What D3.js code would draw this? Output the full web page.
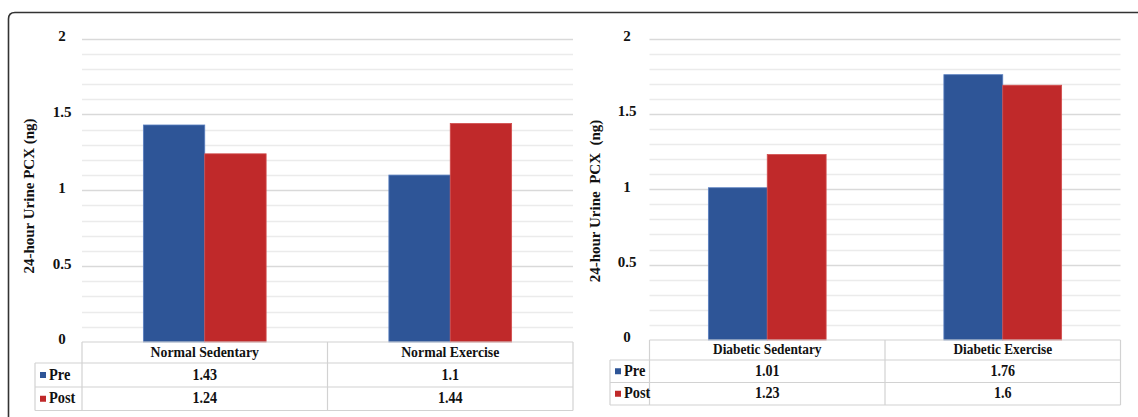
<!DOCTYPE html>
<html>
<head>
<meta charset="utf-8">
<script src="https://cdn.jsdelivr.net/npm/d3@7"></script>
<style>
  html, body { margin: 0; padding: 0; background: #fff; }
  svg { display: block; }
  text { font-family: "Liberation Serif", "Times New Roman", serif; font-weight: bold; fill: #111; }
</style>
</head>
<body>
<svg id="chart" width="1138" height="417"></svg>
<script>
// ---- data ----
const seriesNames = ["Pre", "Post"];
const seriesColors = ["#2e5597", "#c0292a"];
const yTicks = [0, 0.5, 1, 1.5, 2];
const yTickLabels = ["0", "0.5", "1", "1.5", "2"];
const yTitleLeft = "24-hour Urine PCX (ng)";
const yTitleRight = "24-hour Urine  PCX  (ng)";

const normalCategories = ["Normal Sedentary", "Normal Exercise"];
const normalPre = [1.43, 1.1];
const normalPost = [1.24, 1.44];
const normalPreTable = ["1.43", "1.1"];
const normalPostTable = ["1.24", "1.44"];

const diabeticCategories = ["Diabetic Sedentary", "Diabetic Exercise"];
const diabeticPre = [1.01, 1.76];
const diabeticPost = [1.23, 1.69];   // bar heights as drawn
const diabeticPreTable = ["1.01", "1.76"];
const diabeticPostTable = ["1.23", "1.6"]; // values as printed in the table

const svg = d3.select("#chart");

// frame (rounded border, open to right/bottom)
svg.append("path")
  .attr("d", "M8.5,420 L8.5,19 Q8.5,12.5 15,12.5 L1140,12.5")
  .attr("fill", "none").attr("stroke", "#333").attr("stroke-width", 1.6);

function condensedText(sel, x, y, size, sx, anchor) {
  return sel.append("text")
    .attr("transform", `translate(${x},${y}) scale(${sx},1)`)
    .attr("text-anchor", anchor || "middle").attr("dominant-baseline", "middle")
    .style("font-size", size);
}

function drawPanel(opt) {
  const g = svg.append("g");
  const y = d3.scaleLinear().domain([0, 2]).range([opt.y0, opt.y2]);
  const x0 = d3.scaleBand().domain(opt.categories).range([opt.plotLeft, opt.plotLeft + 2 * opt.band]).paddingInner(0).paddingOuter(0);
  const x1 = d3.scaleBand().domain(seriesNames).range([0, x0.bandwidth()]).paddingInner(0).paddingOuter(1);

  // gridlines (minor every 0.1, major on ticks)
  const minor = d3.range(1, 21).map(i => i / 10).filter(v => !yTicks.includes(v));
  g.selectAll(".minor").data(minor).join("line")
    .attr("x1", opt.plotLeft).attr("x2", opt.plotRight)
    .attr("y1", d => Math.round(y(d)) + 0.5).attr("y2", d => Math.round(y(d)) + 0.5)
    .attr("stroke", "#ebebeb").attr("stroke-width", 1.3);
  g.selectAll(".major").data(yTicks.filter(v => v > 0)).join("line")
    .attr("x1", opt.plotLeft).attr("x2", opt.plotRight)
    .attr("y1", d => Math.round(y(d)) + 0.5).attr("y2", d => Math.round(y(d)) + 0.5)
    .attr("stroke", "#d9d9d9").attr("stroke-width", 1.3);

  // y tick labels
  g.selectAll(".ytl").data(yTicks).join("text")
    .attr("x", opt.tickX).attr("y", d => y(d) - 1)
    .attr("text-anchor", "middle").attr("dominant-baseline", "middle")
    .style("font-size", "15px")
    .text((d, i) => yTickLabels[i]);

  // y title
  g.append("text")
    .attr("transform", `translate(${opt.titleX},${opt.titleY}) rotate(-90)`)
    .attr("text-anchor", "middle").attr("dominant-baseline", "middle")
    .attr("xml:space", "preserve").style("white-space", "pre")
    .style("font-size", "15px")
    .text(opt.title);

  // bars
  const rows = opt.categories.map((c, i) => ({ cat: c, vals: [opt.pre[i], opt.post[i]] }));
  const grp = g.selectAll(".cat").data(rows).join("g")
    .attr("transform", d => `translate(${x0(d.cat)},0)`);
  grp.selectAll("rect").data(d => d.vals.map((v, k) => ({ s: seriesNames[k], v, k }))).join("rect")
    .attr("x", d => x1(d.s)).attr("width", x1.bandwidth())
    .attr("y", d => y(d.v)).attr("height", d => y(0) - y(d.v))
    .attr("fill", d => seriesColors[d.k])
    .attr("stroke", d => d.k === 0 ? "#5a7fc0" : "#d24c4c").attr("stroke-width", 0.8);

  // data table
  const t = g.append("g");
  const rowTop = opt.tableRows; // [headerTop, preTop, postTop, bottom]
  const border = "#d2d2d2";
  t.append("line").attr("x1", opt.plotLeft).attr("x2", opt.plotRight)
    .attr("y1", rowTop[0]).attr("y2", rowTop[0]).attr("stroke", border).attr("stroke-width", 1.2);
  [1, 2, 3].forEach(r => {
    t.append("line").attr("x1", opt.legendLeft).attr("x2", opt.plotRight)
      .attr("y1", rowTop[r]).attr("y2", rowTop[r]).attr("stroke", border).attr("stroke-width", 1.2);
  });
  t.append("line").attr("x1", opt.legendLeft).attr("x2", opt.legendLeft)
    .attr("y1", rowTop[1]).attr("y2", rowTop[3]).attr("stroke", border).attr("stroke-width", 1.2);
  [opt.plotLeft, opt.plotLeft + opt.band, opt.plotRight].forEach(xv => {
    t.append("line").attr("x1", xv).attr("x2", xv)
      .attr("y1", rowTop[0]).attr("y2", rowTop[3]).attr("stroke", border).attr("stroke-width", 1.2);
  });
  // header labels
  opt.categories.forEach(c => {
    condensedText(t, x0(c) + x0.bandwidth() / 2, (rowTop[0] + rowTop[1]) / 2 + 1, opt.headerSize, 0.92).text(c);
  });
  // legend + values
  const tableVals = [opt.preTable, opt.postTable];
  seriesNames.forEach((s, k) => {
    const cy = (rowTop[k + 1] + rowTop[k + 2]) / 2;
    t.append("rect").attr("x", opt.legendLeft + 5).attr("y", cy - 3)
      .attr("width", 6).attr("height", 6).attr("fill", seriesColors[k]);
    condensedText(t, opt.legendLeft + 14, cy + 1, "16px", 0.9, "start").text(s);
    opt.categories.forEach((c, i) => {
      condensedText(t, x0(c) + x0.bandwidth() / 2, cy + 1, "16px", 0.88).text(tableVals[k][i]);
    });
  });
}

drawPanel({
  categories: normalCategories, pre: normalPre, post: normalPost,
  preTable: normalPreTable, postTable: normalPostTable,
  plotLeft: 82, plotRight: 573, band: 245.5,
  y0: 342, y2: 38.5, tickX: 62, titleX: 31, titleY: 196,
  title: yTitleLeft, legendLeft: 35, tableRows: [342, 363, 387, 410.5],
  headerSize: "15px"
});

drawPanel({
  categories: diabeticCategories, pre: diabeticPre, post: diabeticPost,
  preTable: diabeticPreTable, postTable: diabeticPostTable,
  plotLeft: 649.5, plotRight: 1120.5, band: 235.5,
  y0: 340, y2: 38.5, tickX: 627, titleX: 597, titleY: 201,
  title: yTitleRight, legendLeft: 610, tableRows: [340, 360, 382.5, 405],
  headerSize: "14.5px"
});
</script>
</body>
</html>
